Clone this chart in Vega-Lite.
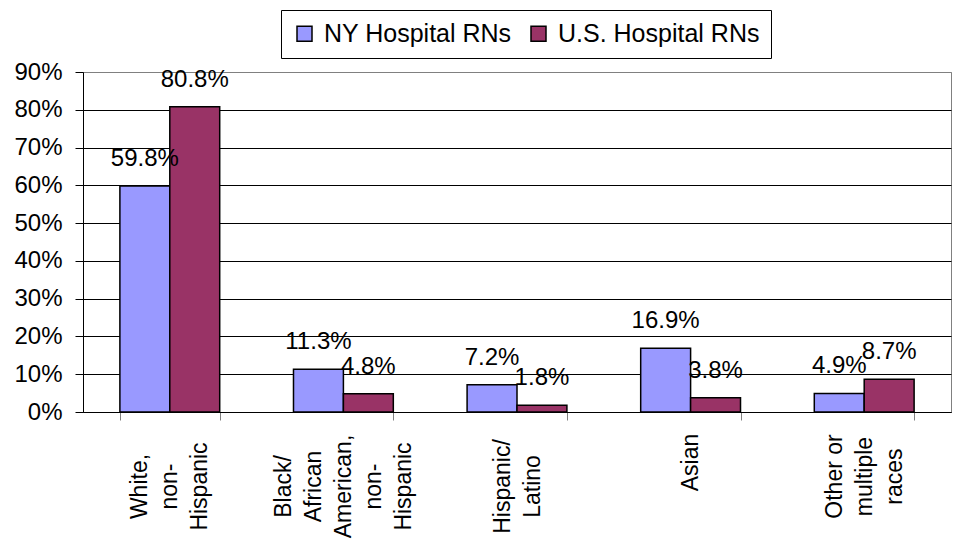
{
  "$schema": "https://vega.github.io/schema/vega-lite/v6.json",
  "width": 868,
  "height": 340,
  "autosize": {"type": "none"},
  "padding": {"left": 83, "top": 72, "right": 22, "bottom": 136},
  "background": "white",
  "data": {
    "values": [
      {"category": "White,|non-|Hispanic", "series": "NY Hospital RNs", "value": 0.598},
      {"category": "White,|non-|Hispanic", "series": "U.S. Hospital RNs", "value": 0.808},
      {"category": "Black/|African|American,|non-|Hispanic", "series": "NY Hospital RNs", "value": 0.113},
      {"category": "Black/|African|American,|non-|Hispanic", "series": "U.S. Hospital RNs", "value": 0.048},
      {"category": "Hispanic/|Latino", "series": "NY Hospital RNs", "value": 0.072},
      {"category": "Hispanic/|Latino", "series": "U.S. Hospital RNs", "value": 0.018},
      {"category": "Asian", "series": "NY Hospital RNs", "value": 0.169},
      {"category": "Asian", "series": "U.S. Hospital RNs", "value": 0.038},
      {"category": "Other or|multiple|races", "series": "NY Hospital RNs", "value": 0.049},
      {"category": "Other or|multiple|races", "series": "U.S. Hospital RNs", "value": 0.087}
    ]
  },
  "config": {
    "font": "Liberation Sans",
    "view": {"stroke": "#808080", "strokeWidth": 1}
  },
  "encoding": {
    "x": {
      "field": "category",
      "type": "nominal",
      "sort": null,
      "scale": {"paddingInner": 0.425, "paddingOuter": 0.2125},
      "axis": {
        "title": null,
        "labelExpr": "split(datum.label, '|')",
        "labelAngle": -90,
        "labelAlign": "center",
        "labelBaseline": "middle",
        "labelPadding": {
          "condition": [
            {"test": "datum.value === 'Asian'", "value": 42},
            {"test": "datum.value === 'Other or|multiple|races'", "value": 56}
          ],
          "value": 66
        },
        "labelOffset": {
          "condition": [
            {"test": "length(split(datum.value, '|')) == 5", "value": -60},
            {"test": "length(split(datum.value, '|')) == 3", "value": -30},
            {"test": "length(split(datum.value, '|')) == 2", "value": -15}
          ],
          "value": 0
        },
        "labelFontSize": 23,
        "labelLineHeight": 30,
        "labelColor": "black",
        "labelLimit": 0,
        "labelOverlap": false,
        "tickBand": "extent",
        "tickSize": 8,
        "tickColor": "#808080",
        "domainColor": "black",
        "grid": false
      }
    },
    "xOffset": {
      "field": "series",
      "type": "nominal",
      "sort": ["NY Hospital RNs", "U.S. Hospital RNs"],
      "scale": {"paddingInner": 0, "paddingOuter": 0}
    },
    "y": {
      "field": "value",
      "type": "quantitative",
      "scale": {"domain": [0, 0.9], "nice": false},
      "axis": {
        "title": null,
        "values": [0, 0.1, 0.2, 0.3, 0.4, 0.5, 0.6, 0.7, 0.8, 0.9],
        "format": ".0%",
        "labelFontSize": 24,
        "labelColor": "black",
        "labelPadding": 13,
        "tickSize": 8,
        "tickColor": "black",
        "domainColor": "black",
        "grid": true,
        "gridColor": {"condition": {"test": "datum.value >= 0.85", "value": "#808080"}, "value": "black"},
        "gridOpacity": 1
      }
    }
  },
  "layer": [
    {
      "mark": {"type": "bar", "stroke": "black", "strokeWidth": 1.5},
      "encoding": {
        "color": {
          "field": "series",
          "type": "nominal",
          "scale": {"domain": ["NY Hospital RNs", "U.S. Hospital RNs"], "range": ["#9999FF", "#993366"]},
          "legend": {
            "title": null,
            "orient": "none",
            "legendX": 198,
            "legendY": -62,
            "direction": "horizontal",
            "strokeColor": "black",
            "fillColor": "white",
            "padding": 11,
            "symbolType": "square",
            "symbolSize": 225,
            "symbolStrokeColor": "black",
            "symbolStrokeWidth": 1.5,
            "symbolOpacity": 1,
            "labelFontSize": 25,
            "labelColor": "black",
            "labelOffset": 7,
            "columnPadding": 14,
            "labelLimit": 0
          }
        }
      }
    },
    {
      "mark": {"type": "text", "baseline": "alphabetic", "dy": -20, "fontSize": 24, "color": "black"},
      "encoding": {
        "text": {"field": "value", "type": "quantitative", "format": ".1%"}
      }
    }
  ]
}
